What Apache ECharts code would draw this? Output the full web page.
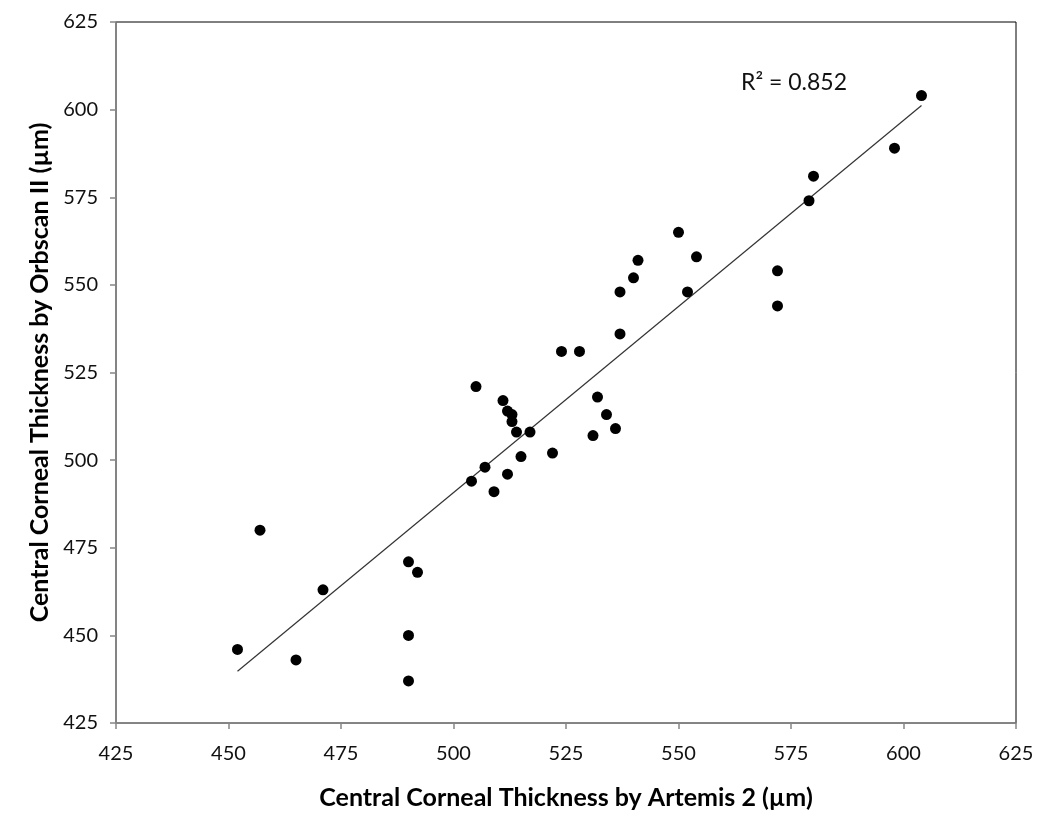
<!DOCTYPE html>
<html>
<head>
<meta charset="utf-8">
<script src="https://cdn.jsdelivr.net/npm/echarts@6/dist/echarts.min.js"></script>
<style>
  html, body { margin: 0; padding: 0; background: #fff; }
  #chart { width: 1050px; height: 834px; }
</style>
</head>
<body>
<div id="chart"></div>
<script>
// Artemis 2 (x) vs Orbscan II (y), µm
const artemis = [452, 457, 465, 471, 490, 492, 490, 490, 504, 505, 507, 509, 511, 512, 513, 513, 514, 515, 512, 517,
  522, 524, 528, 531, 532, 534, 536, 537, 537, 540, 541, 550, 552, 554, 572, 572, 579, 580, 598, 604];
const orbscan = [446, 480, 443, 463, 471, 468, 450, 437, 494, 521, 498, 491, 517, 514, 513, 511, 508, 501, 496, 508,
  502, 531, 531, 507, 518, 513, 509, 536, 548, 552, 557, 565, 548, 558, 554, 544, 574, 581, 589, 604];
const axisTicks = [425, 450, 475, 500, 525, 550, 575, 600, 625];
const r2Label = 'R\u00b2 = 0.852';

const points = artemis.map((x, i) => [x, orbscan[i]]);

// least squares trend line over the data range
function trend(xs, ys) {
  const n = xs.length;
  let sx = 0, sy = 0, sxx = 0, sxy = 0;
  for (let i = 0; i < n; i++) {
    sx += xs[i]; sy += ys[i]; sxx += xs[i] * xs[i]; sxy += xs[i] * ys[i];
  }
  const b = (n * sxy - sx * sy) / (n * sxx - sx * sx);
  const a = (sy - b * sx) / n;
  const x0 = Math.min(...xs), x1 = Math.max(...xs);
  return [[x0, a + b * x0], [x1, a + b * x1]];
}
const trendLine = trend(artemis, orbscan);

const font = 'Lato, "Open Sans", sans-serif';
const chart = echarts.init(document.getElementById('chart'));

chart.setOption({
  backgroundColor: '#fff',
  animation: false,
  grid: {
    left: 116, right: 34, top: 22, bottom: 111,
    show: true, borderColor: '#000', borderWidth: 1
  },
  xAxis: {
    type: 'value', min: 425, max: 625, interval: 25,
    name: 'Central Corneal Thickness by Artemis 2 (\u00b5m)',
    nameLocation: 'middle', nameGap: 62,
    nameTextStyle: { fontFamily: font, fontSize: 25, fontWeight: 'bold', color: '#000' },
    axisLine: { lineStyle: { color: '#868686', width: 1.5 } },
    axisTick: { length: 6, lineStyle: { color: '#868686', width: 1.5 } },
    axisLabel: {
      margin: 21, fontFamily: font, fontSize: 20, color: '#111',
      formatter: v => axisTicks.includes(v) ? String(v) : ''
    },
    splitLine: { show: false }
  },
  yAxis: {
    type: 'value', min: 425, max: 625, interval: 25,
    name: 'Central Corneal Thickness by Orbscan II (\u00b5m)',
    nameLocation: 'middle', nameGap: 61,
    nameTextStyle: { fontFamily: font, fontSize: 25, fontWeight: 'bold', color: '#000' },
    axisLine: { lineStyle: { color: '#868686', width: 1.5 } },
    axisTick: { length: 6, lineStyle: { color: '#868686', width: 1.5 } },
    axisLabel: {
      margin: 18, fontFamily: font, fontSize: 20, color: '#111',
      formatter: v => axisTicks.includes(v) ? String(v) : ''
    },
    splitLine: { show: false }
  },
  series: [
    {
      type: 'line',
      data: trendLine,
      symbol: 'none',
      lineStyle: { color: '#333', width: 1.2 },
      z: 1
    },
    {
      type: 'scatter',
      data: points,
      symbol: 'circle',
      symbolSize: 11,
      itemStyle: { color: '#000', opacity: 1 },
      z: 2
    }
  ],
  graphic: [
    {
      type: 'text', left: 741, top: 71,
      style: { text: r2Label, font: '23px ' + font, fill: '#111' }
    }
  ]
});
</script>
</body>
</html>
